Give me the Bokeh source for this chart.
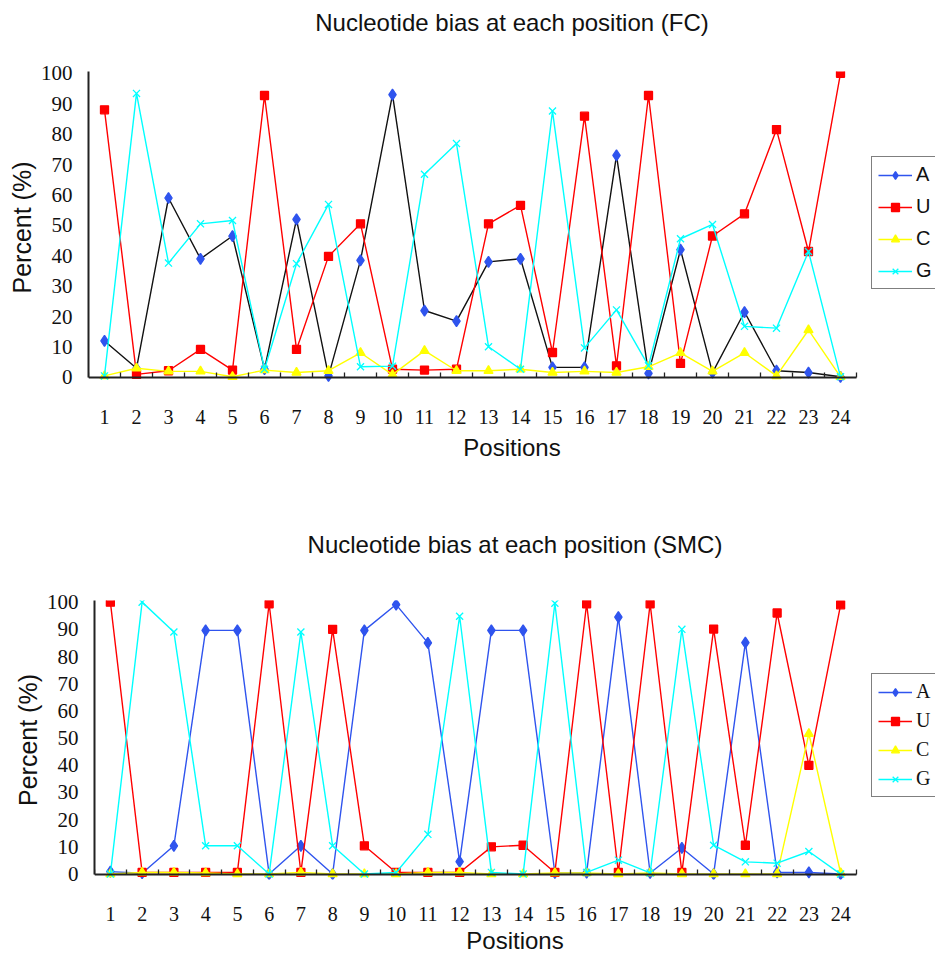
from bokeh.plotting import figure
from bokeh.models import Range1d, FixedTicker, Legend, LegendItem, LinearAxis
from bokeh.embed import file_html
from bokeh.resources import INLINE

positions = list(range(1, 25))
y_ticks = list(range(0, 101, 10))
series_names = ["A", "U", "C", "G"]

fc_A = [12, 3, 59, 39, 46.5, 2.7, 52, 0.5, 38.5, 93, 22, 18.5, 38, 39, 3.3, 3.3, 73, 1.3, 42, 1.6, 21.5, 2.2, 1.6, 0.2]
fc_U = [88, 1, 2.2, 9.2, 2.4, 92.7, 9.2, 39.8, 50.5, 2.7, 2.4, 2.7, 50.5, 56.6, 8.2, 85.9, 3.8, 92.7, 4.6, 46.5, 53.8, 81.5, 41.4, 100]
fc_C = [0.5, 3, 2, 2, 0.2, 2.4, 1.6, 2.2, 8.1, 0.9, 8.8, 2.2, 2.2, 2.7, 1.6, 2, 1.6, 3.5, 8.1, 2, 8.1, 0.5, 15.6, 0.2]
fc_G = [0.5, 93.4, 37.6, 50.5, 51.6, 2.7, 37.4, 56.9, 3.5, 3.7, 66.8, 76.9, 10.1, 2.7, 87.6, 9.7, 22.2, 3.8, 45.6, 50.3, 16.8, 16.2, 41.4, 0.2]

smc_A = [0.9, 0.3, 10.4, 89.6, 89.6, 0, 10.4, 0, 89.6, 99.1, 85, 4.6, 89.6, 89.6, 0.4, 0.5, 94.5, 0.4, 9.6, 0, 85.1, 0.6, 0.6, 0]
smc_U = [100, 0.6, 0.6, 0.6, 0.6, 99.4, 0.6, 90, 10.4, 0.6, 0.6, 0.6, 10, 10.6, 0.6, 99.4, 0.6, 99.4, 0.6, 90.1, 10.6, 96, 40, 99]
smc_C = [0, 0.6, 0.6, 0.4, 0, 0, 0.6, 0, 0, 0, 0.6, 0.6, 0, 0, 0.4, 0.4, 0, 0.4, 0, 0, 0, 0, 51.6, 0.4]
smc_G = [0, 100, 89, 10.4, 10.4, 0, 89, 10.4, 0, 0.6, 14.6, 94.8, 0.6, 0, 99.6, 0.6, 5.1, 0.4, 90, 10.6, 4.5, 4, 8.3, 0]

BLUE = "#2f54ee"
RED = "#ff0000"
YELLOW = "#ffff00"
CYAN = "#00ffff"
MARKERS = {"A": ("diamond", 11), "U": ("square", 8), "C": ("triangle", 9), "G": ("x", 10)}
COLORS = {"A": BLUE, "U": RED, "C": YELLOW, "G": CYAN}
AXIS_COLOR = "#222222"


def make_chart(title, data, a_line_color, geo, legend_font):
    W = 935
    px_per_unit = geo["ppu"]
    x_end = 0.5 + (W - geo["l"]) / px_per_unit
    p = figure(width=W, height=geo["h"], output_backend="svg", toolbar_location=None,
               x_axis_location=None, title_location=None,
               min_border_left=geo["l"], min_border_right=0,
               min_border_top=geo["t"], min_border_bottom=geo["b"],
               x_range=Range1d(0.5, x_end), y_range=Range1d(-2, 100.6))
    p.outline_line_color = None
    p.xgrid.grid_line_color = None
    p.ygrid.grid_line_color = None
    p.background_fill_color = "white"
    p.border_fill_color = "white"

    # chart heading, centred above the plot area
    ax_title = LinearAxis(ticker=FixedTicker(ticks=[]))
    ax_title.axis_line_color = None
    ax_title.major_tick_line_color = None
    ax_title.minor_tick_line_color = None
    ax_title.axis_label = title
    ax_title.axis_label_text_font = "Liberation Sans"
    ax_title.axis_label_text_font_size = "24px"
    ax_title.axis_label_text_font_style = "normal"
    ax_title.axis_label_text_color = "#111111"
    ax_title.axis_label_standoff = geo["tst"]
    p.add_layout(ax_title, "above")

    legend_items = []
    for name in series_names:
        ys = data[name]
        col = COLORS[name]
        lc = a_line_color if name == "A" else col
        p.line(positions, ys, line_color=lc, line_width=1.4)
        marker, size = MARKERS[name]
        sc = p.scatter(positions, ys, marker=marker, size=size, fill_color=col,
                       line_color=col, line_width=1.3)
        # legend-only line in the series colour (hidden in the plot area)
        key = p.line(positions, ys, line_color=col, line_width=1.4, visible=False)
        legend_items.append(LegendItem(label=name, renderers=[key, sc]))

    leg = Legend(items=legend_items, location=geo["legloc"])
    leg.label_text_font = legend_font
    leg.label_text_font_size = "20px"
    leg.label_text_color = "#111111"
    leg.glyph_width = 34
    leg.glyph_height = 20
    leg.label_height = 20
    leg.label_standoff = 4
    leg.spacing = geo["legsp"]
    leg.padding = 6
    leg.margin = 0
    leg.border_line_color = "black"
    leg.border_line_width = 1.5
    leg.background_fill_color = "white"
    leg.background_fill_alpha = 1
    leg.inactive_fill_alpha = 0
    p.add_layout(leg)

    # axis carrying the position labels (no line, no ticks)
    ax_labels = LinearAxis(ticker=FixedTicker(ticks=positions))
    ax_labels.axis_line_color = None
    ax_labels.major_tick_line_color = None
    ax_labels.minor_tick_line_color = None
    ax_labels.major_label_text_font = "Liberation Serif"
    ax_labels.major_label_text_font_size = "20px"
    ax_labels.major_label_text_color = "#111111"
    ax_labels.major_label_standoff = geo["xst"]
    ax_labels.axis_label = "Positions"
    ax_labels.axis_label_text_font = "Liberation Sans"
    ax_labels.axis_label_text_font_size = "24px"
    ax_labels.axis_label_text_font_style = "normal"
    ax_labels.axis_label_text_color = "#111111"
    ax_labels.axis_label_standoff = geo["xlst"]
    p.add_layout(ax_labels, "below")

    # axis line at y = 0 with inward tick marks between positions
    ax_line = LinearAxis(ticker=FixedTicker(ticks=[], minor_ticks=[i + 0.5 for i in range(0, 25)]))
    ax_line.fixed_location = 0
    ax_line.bounds = (0.5, 24.5)
    ax_line.major_tick_in = 0
    ax_line.major_tick_out = 0
    ax_line.minor_tick_in = 5
    ax_line.minor_tick_out = 0
    ax_line.minor_tick_line_color = AXIS_COLOR
    ax_line.minor_tick_line_width = 1.3
    ax_line.axis_line_color = AXIS_COLOR
    ax_line.axis_line_width = 2
    p.add_layout(ax_line, "below")

    ya = p.yaxis[0]
    ya.bounds = (0, 100.6)
    ya.ticker = FixedTicker(ticks=y_ticks)
    ya.major_tick_in = 0
    ya.major_tick_out = 0
    ya.minor_tick_line_color = None
    ya.axis_line_color = AXIS_COLOR
    ya.axis_line_width = 2
    ya.major_label_text_font = "Liberation Serif"
    ya.major_label_text_font_size = "21px"
    ya.major_label_text_color = "#111111"
    ya.major_label_standoff = 16
    ya.axis_label = "Percent (%)"
    ya.axis_label_text_font = "Liberation Sans"
    ya.axis_label_text_font_size = "25px"
    ya.axis_label_text_font_style = "normal"
    ya.axis_label_text_color = "#111111"
    ya.axis_label_standoff = 2
    return p


top = make_chart("Nucleotide bias at each position (FC)",
                 {"A": fc_A, "U": fc_U, "C": fc_C, "G": fc_G}, "#111111",
                 dict(h=520, l=88, t=71, b=137, ppu=32.0, tst=36,
                      legloc=(783, 94), legsp=9, xst=20, xlst=7),
                 "Liberation Sans")
bottom = make_chart("Nucleotide bias at each position (SMC)",
                    {"A": smc_A, "U": smc_U, "C": smc_C, "G": smc_G}, BLUE,
                    dict(h=436, l=94, t=80, b=76, ppu=31.75, tst=43,
                         legloc=(777, 82), legsp=6, xst=21, xlst=3),
                    "Liberation Serif")

open("out.html", "w").write(file_html([top, bottom], INLINE))
